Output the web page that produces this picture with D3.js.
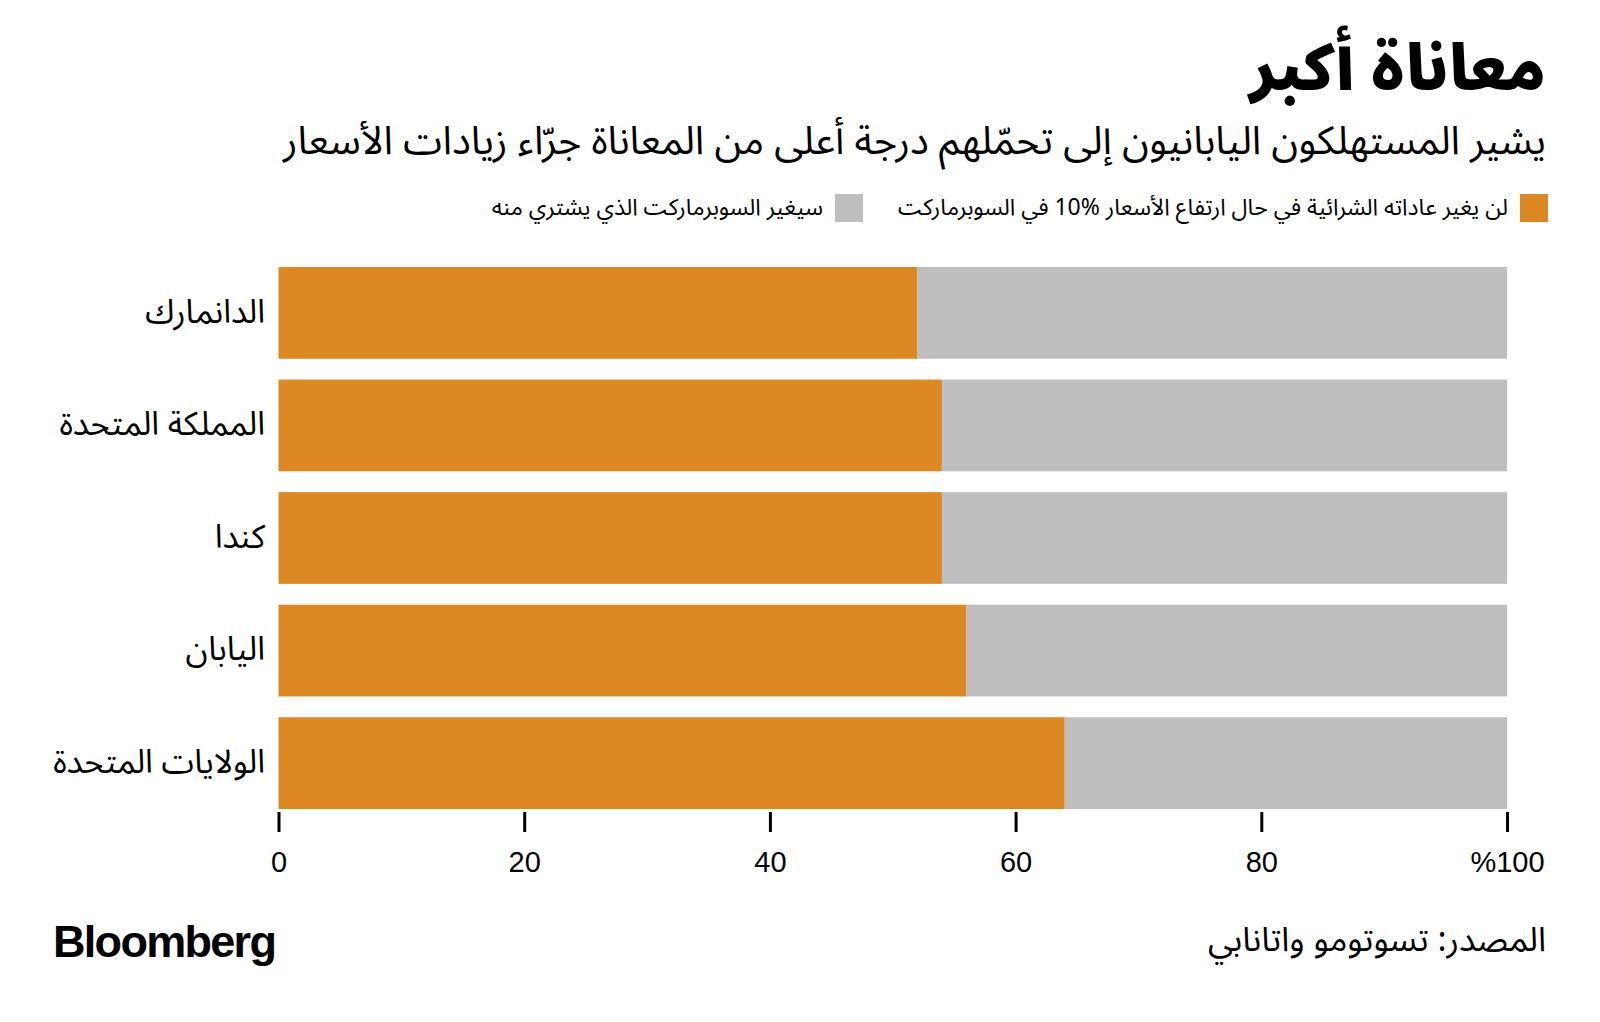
<!DOCTYPE html>
<html><head><meta charset="utf-8">
<script src="https://cdn.jsdelivr.net/npm/d3@7"></script>
<style>
html,body{margin:0;padding:0;background:#fff;}
svg{display:block;}
.ar{font-family:"Noto Sans Arabic","Noto Sans","DejaVu Sans",sans-serif;}
</style></head>
<body>
<svg id="chart" width="1600" height="1022"></svg>
<script>
const categories = ["الدانمارك","المملكة المتحدة","كندا","اليابان","الولايات المتحدة"];
const wontChange = [52, 54, 54, 56, 64];
const willChange = [48, 46, 46, 44, 36];
const seriesNames = ["لن يغير عاداته الشرائية في حال ارتفاع الأسعار %10 في السوبرماركت","سيغير السوبرماركت الذي يشتري منه"];
const tickValues = [0,20,40,60,80,100];
const tickLabels = ["0","20","40","60","80","%100"];
const colors = ["#DC8823","#BEBEBE"];

const svg = d3.select("#chart");
const x = d3.scaleLinear().domain([0,100]).range([278.5,1507]);
const y = d3.scaleBand().domain(categories).range([267,809]).paddingInner(0.185).paddingOuter(0);

const data = categories.map((c,i)=>({cat:c, a:wontChange[i], b:willChange[i]}));
const g = svg.append("g");
g.selectAll(".a").data(data).join("rect")
  .attr("x", x(0)).attr("y", d=>y(d.cat))
  .attr("width", d=>x(d.a)-x(0)).attr("height", y.bandwidth())
  .attr("fill", colors[0]);
g.selectAll(".b").data(data).join("rect")
  .attr("x", d=>x(d.a)).attr("y", d=>y(d.cat))
  .attr("width", d=>x(d.a+d.b)-x(d.a)).attr("height", y.bandwidth())
  .attr("fill", colors[1]);

// category labels
svg.selectAll(".cat").data(categories).join("text")
  .attr("class","ar")
  .attr("x", 265).attr("y", d=>y(d)+y.bandwidth()/2)
  .attr("dy","0.3em")
  .attr("direction","rtl").attr("text-anchor","start")
  .attr("font-size",33).attr("fill","#000")
  .text(d=>d);

// axis
const axis = d3.axisBottom(x).tickValues(tickValues).tickSize(20).tickPadding(19)
  .tickFormat((d,i)=>tickLabels[i]);
const ax = svg.append("g").attr("transform","translate(0,812)").call(axis);
ax.select(".domain").remove();
ax.selectAll(".tick line").attr("stroke","#000").attr("stroke-width",3);
ax.selectAll(".tick text").attr("font-family","'Liberation Sans',Arial,sans-serif")
  .attr("font-size",29).attr("fill","#000");

// title
svg.append("text").attr("class","ar")
  .attr("x",1546).attr("y",90).attr("direction","rtl").attr("text-anchor","start")
  .attr("font-size",63).attr("font-weight",900).attr("fill","#000")
  .text("معاناة أكبر");
svg.append("text").attr("class","ar")
  .attr("x",1546).attr("y",154).attr("direction","rtl").attr("text-anchor","start")
  .attr("font-size",39.5).attr("fill","#000")
  .text("يشير المستهلكون اليابانيون إلى تحمّلهم درجة أعلى من المعاناة جرّاء زيادات الأسعار");

// legend
const legX = [1548, 863];
seriesNames.forEach((n,i)=>{
  svg.append("rect").attr("x",legX[i]-28).attr("y",194).attr("width",28).attr("height",28).attr("fill",colors[i]);
  svg.append("text").attr("class","ar")
    .attr("x",legX[i]-40).attr("y",207).attr("dy","0.35em")
    .attr("direction","rtl").attr("text-anchor","start")
    .attr("font-size",23).attr("fill","#000").text(n);
});

// footer
svg.append("text").attr("x",53).attr("y",957)
  .attr("font-family","'Liberation Sans',Arial,sans-serif").attr("font-weight",700)
  .attr("font-size",45).attr("letter-spacing",-1.7).attr("fill","#000").text("Bloomberg");
svg.append("text").attr("class","ar")
  .attr("x",1546).attr("y",951).attr("direction","rtl").attr("text-anchor","start")
  .attr("font-size",34).attr("fill","#000").text("المصدر: تسوتومو واتانابي");
</script>
</body></html>
